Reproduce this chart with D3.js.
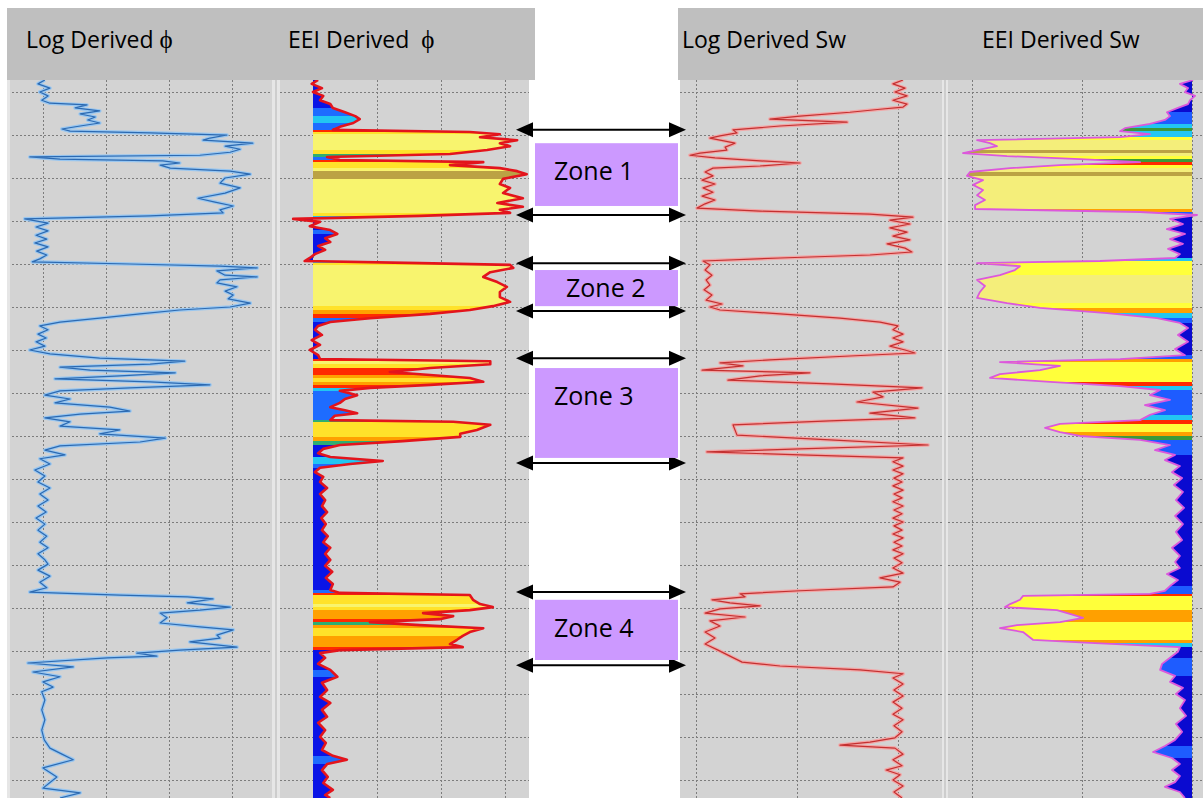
<!DOCTYPE html>
<html>
<head>
<meta charset="utf-8">
<script src="https://cdn.jsdelivr.net/npm/d3@7"></script>
<style>
  body { margin: 0; background: #fff; }
  svg { display: block; }
</style>
</head>
<body>
<div class="svg-container"></div>
<script>
// ---- data: [depth, value] ----
const depthTicks = [2000, 2010, 2020, 2030, 2040, 2050, 2060, 2070, 2080, 2090, 2100, 2110, 2120, 2130, 2140, 2150, 2160];
const phiTicks = [0, 0.1, 0.2, 0.3];
const swTicks = [0, 0.5, 1];
const trackTitles = ['Log Derived ', 'EEI Derived  ', 'Log Derived Sw', 'EEI Derived Sw'];

const logPhi = [[1997.2,0.003],[1998.1,-0.008],[1999.1,0.011],[2000.0,-0.005],[2000.9,0.008],[2001.9,-0.002],[2002.6,0.011],[2003.0,0.070],[2003.7,0.051],[2004.4,0.090],[2005.1,0.059],[2005.8,0.083],[2006.5,0.071],[2007.2,0.090],[2007.9,0.059],[2008.6,0.030],[2009.1,0.043],[2009.5,0.170],[2010.0,0.292],[2010.7,0.265],[2011.2,0.254],[2011.9,0.333],[2012.6,0.289],[2013.3,0.313],[2014.0,0.297],[2014.7,0.249],[2015.1,-0.021],[2015.6,0.027],[2016.0,0.190],[2016.5,0.217],[2017.0,0.186],[2017.7,0.202],[2018.4,0.297],[2019.1,0.329],[2020.0,0.289],[2021.2,0.281],[2022.3,0.313],[2023.5,0.289],[2024.7,0.246],[2025.6,0.273],[2026.5,0.302],[2027.4,0.281],[2028.1,0.286],[2028.8,0.170],[2029.5,-0.029],[2030.5,0.008],[2031.4,-0.011],[2032.3,0.008],[2033.3,-0.011],[2034.2,0.006],[2035.1,-0.013],[2036.0,0.008],[2037.0,-0.010],[2037.9,0.006],[2038.8,-0.005],[2039.5,-0.017],[2040.0,0.138],[2040.5,0.281],[2040.9,0.340],[2041.6,0.276],[2042.6,0.289],[2043.0,0.340],[2043.7,0.281],[2044.4,0.276],[2045.3,0.308],[2046.3,0.289],[2047.2,0.302],[2048.1,0.294],[2049.1,0.329],[2050.0,0.297],[2050.7,0.217],[2051.6,0.154],[2052.6,0.090],[2053.5,0.027],[2054.4,-0.005],[2055.3,0.008],[2056.3,-0.008],[2057.2,0.005],[2058.1,-0.011],[2059.1,0.003],[2060.0,-0.021],[2060.9,0.011],[2061.9,0.090],[2062.6,0.225],[2063.3,0.170],[2064.0,0.027],[2064.7,0.075],[2065.3,0.210],[2066.0,0.122],[2066.7,0.019],[2067.4,0.170],[2068.1,0.265],[2068.8,0.138],[2069.5,0.027],[2070.5,0.003],[2071.4,0.043],[2072.3,0.019],[2073.3,0.106],[2074.2,0.138],[2074.9,0.059],[2075.8,0.003],[2076.7,0.043],[2077.7,0.027],[2078.6,0.122],[2079.5,0.090],[2080.5,0.194],[2081.4,0.154],[2082.3,0.027],[2083.3,0.003],[2084.4,0.035],[2085.3,-0.005],[2086.5,0.011],[2087.9,-0.013],[2089.3,0.003],[2090.7,-0.008],[2092.1,0.011],[2093.5,-0.005],[2094.9,0.008],[2096.3,-0.008],[2097.7,0.005],[2099.1,-0.011],[2100.5,0.003],[2101.9,-0.008],[2103.3,0.006],[2104.7,-0.005],[2106.0,0.008],[2107.4,-0.008],[2108.8,0.003],[2109.8,0.008],[2111.2,-0.008],[2112.6,0.011],[2114.0,-0.005],[2115.3,0.006],[2116.3,-0.021],[2117.0,0.122],[2117.4,0.229],[2117.9,0.270],[2118.8,0.229],[2119.8,0.297],[2120.5,0.249],[2121.2,0.186],[2122.3,0.197],[2123.5,0.186],[2124.4,0.249],[2125.1,0.302],[2126.3,0.276],[2127.0,0.281],[2127.9,0.233],[2129.1,0.308],[2129.8,0.217],[2130.5,0.149],[2131.2,0.181],[2131.6,0.102],[2132.8,-0.024],[2133.7,0.048],[2134.9,-0.016],[2136.0,0.027],[2137.2,0.000],[2138.4,0.016],[2139.5,-0.002],[2141.4,0.003],[2143.7,-0.002],[2146.0,0.003],[2148.4,-0.002],[2150.7,0.002],[2152.6,0.011],[2154.0,0.030],[2155.3,0.048],[2157.2,0.000],[2159.3,0.022],[2161.9,0.000],[2163.0,0.059],[2164.2,0.027]];

const eeiPhi = [[1997.2,0.008],[1998.1,-0.002],[1999.1,0.014],[2000.0,0.000],[2000.9,0.016],[2001.9,0.011],[2002.8,0.027],[2003.7,0.031],[2004.7,0.050],[2005.6,0.066],[2006.3,0.073],[2007.2,0.063],[2008.1,0.042],[2008.8,0.031],[2009.3,0.245],[2009.8,0.292],[2010.5,0.261],[2011.2,0.319],[2011.9,0.292],[2012.6,0.308],[2013.5,0.272],[2014.4,0.214],[2015.1,0.022],[2015.8,0.042],[2016.3,0.266],[2017.0,0.214],[2017.7,0.292],[2018.4,0.319],[2019.1,0.334],[2020.2,0.297],[2021.4,0.292],[2022.3,0.308],[2023.5,0.297],[2024.7,0.328],[2025.8,0.288],[2026.7,0.328],[2027.4,0.292],[2028.1,0.308],[2028.8,0.167],[2029.5,-0.031],[2030.2,0.011],[2031.2,-0.005],[2032.1,0.027],[2033.0,0.038],[2034.0,0.019],[2034.9,0.027],[2035.8,0.008],[2036.7,0.019],[2037.7,0.003],[2038.6,-0.005],[2039.3,-0.013],[2039.8,0.167],[2040.2,0.308],[2040.9,0.313],[2041.9,0.277],[2043.0,0.266],[2044.2,0.288],[2045.3,0.303],[2046.5,0.292],[2047.7,0.292],[2048.8,0.308],[2049.8,0.281],[2050.7,0.245],[2051.6,0.183],[2052.6,0.089],[2053.5,0.027],[2054.4,0.008],[2055.3,0.003],[2056.5,0.014],[2057.7,-0.002],[2058.8,0.011],[2060.0,-0.005],[2061.2,0.008],[2062.1,0.011],[2062.6,0.277],[2063.3,0.277],[2064.2,0.183],[2065.1,0.120],[2065.8,0.183],[2066.5,0.245],[2067.4,0.266],[2068.1,0.183],[2068.8,0.089],[2069.5,0.042],[2070.5,0.069],[2071.4,0.050],[2072.3,0.042],[2073.3,0.027],[2074.0,0.050],[2074.7,0.069],[2075.3,0.034],[2076.3,0.027],[2076.7,0.219],[2077.4,0.277],[2078.6,0.256],[2079.5,0.230],[2080.2,0.230],[2081.2,0.140],[2082.1,0.042],[2083.0,0.016],[2084.0,0.008],[2084.9,0.027],[2085.8,0.109],[2086.5,0.058],[2087.4,0.011],[2088.4,0.003],[2089.5,0.016],[2090.7,0.011],[2092.1,0.022],[2093.5,0.011],[2094.9,0.019],[2096.3,0.014],[2097.7,0.022],[2099.1,0.013],[2100.5,0.020],[2101.9,0.014],[2103.3,0.023],[2104.7,0.016],[2106.0,0.027],[2107.4,0.019],[2108.8,0.027],[2110.2,0.019],[2111.6,0.030],[2113.0,0.020],[2114.4,0.031],[2115.8,0.027],[2116.5,0.042],[2117.0,0.245],[2118.1,0.250],[2119.1,0.261],[2119.8,0.281],[2120.5,0.245],[2121.2,0.172],[2121.9,0.219],[2122.6,0.198],[2123.3,0.089],[2124.0,0.167],[2124.7,0.266],[2125.6,0.245],[2126.5,0.234],[2127.4,0.225],[2128.4,0.214],[2129.1,0.234],[2129.8,0.042],[2130.5,0.011],[2131.6,0.019],[2133.0,0.008],[2134.4,0.027],[2136.0,0.038],[2137.4,0.014],[2139.1,0.022],[2140.7,0.011],[2142.1,0.027],[2143.7,0.014],[2145.3,0.022],[2146.7,0.008],[2148.4,0.019],[2150.0,0.011],[2151.4,0.020],[2153.0,0.014],[2154.4,0.031],[2155.3,0.053],[2156.3,0.022],[2157.7,0.014],[2159.3,0.023],[2160.7,0.016],[2162.3,0.031],[2163.5,0.019],[2164.2,0.027]];

const logSw = [[1997.2,1.025],[1998.1,0.975],[1999.1,1.035],[2000.0,0.985],[2000.9,1.045],[2001.9,0.975],[2002.8,1.045],[2003.5,1.025],[2004.0,0.911],[2004.7,0.762],[2005.6,0.515],[2006.3,0.366],[2007.0,0.748],[2007.9,0.416],[2008.8,0.183],[2009.5,0.203],[2010.2,0.119],[2010.7,0.069],[2011.4,0.144],[2011.9,0.193],[2012.8,0.144],[2013.5,0.153],[2014.2,0.020],[2014.7,-0.030],[2015.3,0.094],[2016.0,0.317],[2016.5,0.515],[2017.2,0.317],[2017.7,0.084],[2018.6,0.045],[2019.5,0.084],[2020.5,0.030],[2021.4,0.094],[2022.3,0.035],[2023.3,0.084],[2024.2,0.030],[2025.1,0.094],[2026.0,0.045],[2027.0,0.005],[2027.7,0.317],[2028.4,0.861],[2029.1,1.074],[2029.8,0.960],[2030.7,1.059],[2031.6,0.960],[2032.6,1.045],[2033.5,0.975],[2034.4,1.059],[2035.3,0.946],[2036.3,1.035],[2037.2,1.069],[2037.9,0.861],[2038.6,0.416],[2039.3,0.035],[2040.2,0.069],[2041.4,0.045],[2042.6,0.079],[2043.7,0.050],[2044.9,0.069],[2046.0,0.040],[2047.2,0.079],[2048.4,0.050],[2049.3,0.129],[2050.0,0.069],[2050.7,0.119],[2051.6,0.416],[2052.6,0.713],[2053.5,0.911],[2054.4,1.000],[2055.3,0.975],[2056.3,1.025],[2057.2,0.975],[2058.1,1.025],[2059.1,0.960],[2060.0,1.035],[2060.7,1.084],[2061.4,0.762],[2062.3,0.366],[2063.0,0.119],[2063.7,0.233],[2064.7,0.030],[2065.3,0.564],[2066.0,0.317],[2067.0,0.158],[2067.9,0.663],[2068.8,1.119],[2069.8,0.876],[2070.9,0.926],[2072.1,0.797],[2073.5,1.099],[2074.7,0.861],[2075.8,1.084],[2076.5,0.663],[2077.4,0.183],[2079.8,0.203],[2080.9,0.663],[2082.1,1.149],[2083.0,0.515],[2083.7,0.054],[2084.4,0.515],[2085.1,1.025],[2086.0,0.975],[2087.0,1.025],[2087.9,0.975],[2088.8,1.025],[2089.8,0.980],[2090.7,1.020],[2091.6,0.975],[2092.6,1.025],[2093.5,0.980],[2094.4,1.020],[2095.3,0.975],[2096.3,1.025],[2097.2,0.980],[2098.1,1.020],[2099.1,0.975],[2100.0,1.025],[2100.9,0.980],[2101.9,1.020],[2102.8,0.975],[2103.7,1.025],[2104.7,0.980],[2105.6,1.020],[2106.5,0.975],[2107.4,1.025],[2108.4,0.980],[2109.5,1.020],[2110.7,0.975],[2111.9,1.025],[2113.0,0.911],[2114.0,1.010],[2115.1,0.975],[2116.0,0.515],[2116.7,0.218],[2117.4,0.243],[2118.1,0.079],[2118.8,0.168],[2119.5,0.317],[2120.2,0.119],[2121.2,0.045],[2122.1,0.243],[2123.0,0.069],[2124.2,0.119],[2125.6,0.045],[2127.0,0.094],[2128.4,0.045],[2129.8,0.109],[2131.2,0.168],[2132.6,0.228],[2133.5,0.416],[2134.4,0.812],[2135.3,1.025],[2136.3,0.975],[2137.7,1.025],[2139.1,0.980],[2140.5,1.025],[2141.9,0.975],[2143.3,1.020],[2144.7,0.975],[2146.0,1.025],[2147.4,0.980],[2148.8,1.020],[2150.2,0.985],[2151.2,0.861],[2151.9,0.713],[2152.6,0.985],[2154.0,1.025],[2155.3,0.975],[2156.7,1.020],[2157.7,0.941],[2158.8,1.010],[2160.0,0.975],[2161.4,1.025],[2162.8,0.980],[2164.2,1.020]];

const eeiSw = [[1997.2,1.005],[1998.1,0.945],[1999.1,0.982],[2000.0,0.968],[2000.9,1.014],[2001.9,0.991],[2002.8,0.982],[2003.7,0.936],[2004.7,0.886],[2005.6,0.900],[2006.5,0.877],[2007.4,0.809],[2008.4,0.695],[2009.1,0.673],[2009.8,0.809],[2010.5,0.673],[2011.2,0.023],[2011.9,0.082],[2012.6,0.114],[2013.5,0.023],[2014.2,-0.041],[2014.9,0.159],[2015.6,0.491],[2016.3,0.764],[2017.0,0.400],[2017.7,0.173],[2018.6,-0.009],[2019.5,-0.023],[2020.5,0.050],[2021.6,0.005],[2022.8,0.050],[2024.0,0.023],[2025.1,0.059],[2026.3,0.014],[2027.2,0.014],[2027.9,0.764],[2028.6,1.023],[2029.5,0.900],[2030.7,0.959],[2031.9,0.886],[2033.0,0.968],[2034.2,0.900],[2035.3,0.959],[2036.5,0.891],[2037.7,0.945],[2038.6,0.923],[2039.3,0.582],[2039.8,0.023],[2040.5,0.218],[2041.4,0.195],[2042.6,0.127],[2043.7,0.023],[2045.1,0.059],[2046.5,0.036],[2047.9,0.023],[2049.1,0.159],[2050.2,0.309],[2051.4,0.614],[2052.6,0.841],[2053.7,0.945],[2054.9,0.982],[2056.5,0.936],[2058.1,0.982],[2059.8,0.923],[2061.2,0.968],[2062.1,0.673],[2062.8,0.127],[2063.7,0.400],[2064.7,0.309],[2065.6,0.127],[2066.5,0.082],[2067.4,0.355],[2068.4,0.673],[2069.3,0.855],[2070.5,0.809],[2071.6,0.900],[2072.8,0.786],[2074.0,0.877],[2075.1,0.809],[2076.3,0.764],[2077.2,0.400],[2078.1,0.332],[2079.1,0.400],[2080.0,0.491],[2080.9,0.764],[2082.1,0.900],[2083.3,0.832],[2084.4,0.923],[2085.6,0.877],[2087.0,0.945],[2088.4,0.909],[2089.8,0.955],[2091.4,0.918],[2093.0,0.959],[2094.9,0.927],[2096.7,0.964],[2098.6,0.923],[2100.5,0.959],[2102.3,0.927],[2104.2,0.955],[2106.0,0.909],[2107.9,0.945],[2109.3,0.923],[2110.7,0.945],[2112.1,0.886],[2113.5,0.936],[2114.9,0.900],[2116.0,0.877],[2116.7,0.809],[2117.2,0.232],[2118.1,0.218],[2119.1,0.173],[2119.8,0.150],[2120.5,0.386],[2121.4,0.445],[2122.3,0.505],[2123.3,0.400],[2124.0,0.205],[2124.7,0.127],[2125.6,0.232],[2126.5,0.255],[2127.4,0.277],[2128.1,0.536],[2129.1,0.945],[2130.2,0.936],[2131.6,0.900],[2133.0,0.864],[2134.4,0.855],[2135.8,0.923],[2137.2,0.900],[2138.6,0.959],[2140.0,0.927],[2141.4,0.968],[2143.3,0.945],[2145.1,0.973],[2147.0,0.927],[2148.8,0.955],[2150.7,0.923],[2152.1,0.877],[2153.5,0.823],[2154.9,0.909],[2156.3,0.945],[2157.7,0.909],[2159.1,0.945],[2160.5,0.923],[2161.6,0.877],[2162.8,0.945],[2164.2,0.968]];

// interpreted zones (depths)
const zoneNames = ['Zone 1', 'Zone 2', 'Zone 3', 'Zone 4'];
const zoneArrowTop = [2008.8, 2039.8, 2061.9, 2116.3];
const zoneArrowBase = [2028.6, 2050.9, 2086.3, 2133.3];
const zoneBoxTop = [2011.9, 2041.4, 2064.2, 2118.1];
const zoneBoxBase = [2026.5, 2049.8, 2085.1, 2132.1];

function renderLogPanels() {
  const width = 1203;
  const height = 798;
  const top = 80;

  const svg = d3.select('.svg-container')
    .append('svg')
    .attr('width', width)
    .attr('height', height);
  const defs = svg.append('defs');

  const y = d3.scaleLinear().domain([1997.2, 2164.2]).range([top, height]);

  // colour of the shaded fill, by value
  const phiColor = d3.scaleThreshold()
    .domain([0.03, 0.06, 0.09, 0.13, 0.18, 0.23, 0.27, 0.315])
    .range(['#0a14e6', '#1e6cff', '#22c6f2', '#2fae72', '#ff2a00', '#ffa000', '#ffe22a', '#f8f46e', '#bba244']);
  const swColor = d3.scaleThreshold()
    .domain([0, 0.1, 0.38, 0.5, 0.6, 0.7, 0.8, 0.9])
    .range(['#bba244', '#f4ee7a', '#ffff3a', '#ffa000', '#ff2a00', '#3a9a3a', '#22c6f2', '#1e5cff', '#0a0ad0']);

  const tracks = [
    { data: logPhi, left: 8, right: 272, x: d3.scaleLinear().domain([0, 0.3]).range([43, 232]), ticks: phiTicks,
      halo: '#98c6f0', stroke: '#2c6ab2' },
    { data: eeiPhi, left: 280, right: 529, x: d3.scaleLinear().domain([0, 0.3]).range([313, 505]), ticks: phiTicks,
      base: 0, color: phiColor, stroke: '#e3141c' },
    { data: logSw, left: 680, right: 942, x: d3.scaleLinear().domain([0, 1]).range([696, 898]), ticks: swTicks,
      halo: '#f2a6a6', stroke: '#c43030' },
    { data: eeiSw, left: 948, right: 1203, x: d3.scaleLinear().domain([0, 1]).range([972, 1192]), ticks: swTicks,
      base: 1, color: swColor, stroke: '#dc58dc' }
  ];

  // header bands
  svg.append('rect').attr('x', 7).attr('y', 8).attr('width', 528).attr('height', top - 8).attr('fill', '#bfbfbf');
  svg.append('rect').attr('x', 678).attr('y', 8).attr('width', 525).attr('height', top - 8).attr('fill', '#bfbfbf');

  const titleX = [26, 288, 682, 982];
  trackTitles.forEach((t, i) => {
    const txt = svg.append('text')
      .attr('x', titleX[i]).attr('y', 48)
      .attr('font-family', 'Open Sans, sans-serif')
      .attr('font-size', 23)
      .attr('fill', '#000')
      .style('white-space', 'pre')
      .text(t);
    if (i < 2) {
      txt.append('tspan').attr('font-family', 'Liberation Serif, DejaVu Serif, serif').attr('font-size', 25).text('\u03D5');
    }
  });

  tracks.forEach((t, i) => {
    const g = svg.append('g');
    const clipId = 'clip' + i;
    defs.append('clipPath').attr('id', clipId)
      .append('rect').attr('x', t.left).attr('y', top).attr('width', t.right - t.left).attr('height', height - top);

    g.append('rect')
      .attr('x', t.left).attr('y', top)
      .attr('width', t.right - t.left).attr('height', height - top)
      .attr('fill', '#d3d3d3');

    // dotted grid
    g.selectAll('.hgrid')
      .data(depthTicks)
      .enter()
      .append('line')
      .attr('x1', t.left).attr('x2', t.right)
      .attr('y1', d => Math.round(y(d)) + 0.5).attr('y2', d => Math.round(y(d)) + 0.5)
      .attr('stroke', '#7c7c7c').attr('stroke-dasharray', '2,2');
    g.selectAll('.vgrid')
      .data(t.ticks)
      .enter()
      .append('line')
      .attr('x1', d => Math.round(t.x(d)) + 0.5).attr('x2', d => Math.round(t.x(d)) + 0.5)
      .attr('y1', top).attr('y2', height)
      .attr('stroke', '#7c7c7c').attr('stroke-dasharray', '2,2');

    const plot = g.append('g').attr('clip-path', `url(#${clipId})`);
    const line = d3.line().x(d => t.x(d[1])).y(d => y(d[0]));

    if (t.color) {
      // stepped colour bands along depth
      const gradId = 'grad' + i;
      const grad = defs.append('linearGradient').attr('id', gradId)
        .attr('gradientUnits', 'userSpaceOnUse')
        .attr('x1', 0).attr('x2', 0).attr('y1', top).attr('y2', height);
      const span = height - top;
      t.data.forEach((d, k) => {
        const nx = t.data[k + 1] || d;
        const c = t.color((d[1] + nx[1]) / 2);
        grad.append('stop').attr('offset', (y(d[0]) - top) / span).attr('stop-color', c);
        grad.append('stop').attr('offset', (y(nx[0]) - top) / span).attr('stop-color', c);
      });
      const area = d3.area()
        .y(d => y(d[0]))
        .x0(t.x(t.base))
        .x1(d => t.x(d[1]));
      plot.append('path').datum(t.data).attr('d', area).attr('fill', `url(#${gradId})`);
      plot.append('path').datum(t.data).attr('d', line)
        .attr('fill', 'none').attr('stroke', t.stroke).attr('stroke-width', i === 1 ? 2.6 : 1.8)
        .attr('stroke-linejoin', 'round');
    } else {
      plot.append('path').datum(t.data).attr('d', line)
        .attr('fill', 'none').attr('stroke', t.halo).attr('stroke-width', 3.6).attr('stroke-linejoin', 'round');
      plot.append('path').datum(t.data).attr('d', line)
        .attr('fill', 'none').attr('stroke', t.stroke).attr('stroke-width', 1.2).attr('stroke-linejoin', 'round');
    }
  });

  // track separators
  [[272, 280], [942, 948]].forEach(s => {
    svg.append('rect').attr('x', s[0]).attr('y', top).attr('width', s[1] - s[0]).attr('height', height - top).attr('fill', '#e6e6e6');
    svg.append('line').attr('x1', (s[0] + s[1]) / 2).attr('x2', (s[0] + s[1]) / 2).attr('y1', top).attr('y2', height)
      .attr('stroke', '#b4b4b4').attr('stroke-width', 1);
  });
  svg.append('rect').attr('x', 7).attr('y', top).attr('width', 3).attr('height', height - top).attr('fill', '#e6e6e6');

  // zones: double arrows and labelled boxes
  const ax0 = 516, ax1 = 686, head = 17, half = 7.5;
  const arrowG = svg.append('g');
  const drawArrow = yy => {
    arrowG.append('line').attr('x1', ax0 + head - 2).attr('x2', ax1 - head + 2)
      .attr('y1', yy).attr('y2', yy).attr('stroke', '#000').attr('stroke-width', 2);
    arrowG.append('path').attr('d', `M${ax0},${yy}L${ax0 + head},${yy - half}L${ax0 + head},${yy + half}Z`).attr('fill', '#000');
    arrowG.append('path').attr('d', `M${ax1},${yy}L${ax1 - head},${yy - half}L${ax1 - head},${yy + half}Z`).attr('fill', '#000');
  };

  zoneNames.forEach((z, i) => {
    const y0 = y(zoneBoxTop[i]);
    const y1 = y(zoneBoxBase[i]);
    svg.append('rect').attr('x', 535).attr('y', y0).attr('width', 143).attr('height', y1 - y0).attr('fill', '#cc99ff');
    svg.append('text')
      .attr('x', i === 1 ? 566 : 554)
      .attr('y', y0 + Math.min(37, (y1 - y0) / 2 + 9))
      .attr('font-family', 'Open Sans, sans-serif')
      .attr('font-size', 25)
      .attr('fill', '#000')
      .text(z);
    drawArrow(y(zoneArrowTop[i]));
    drawArrow(y(zoneArrowBase[i]));
  });
}

renderLogPanels();
</script>
</body>
</html>
